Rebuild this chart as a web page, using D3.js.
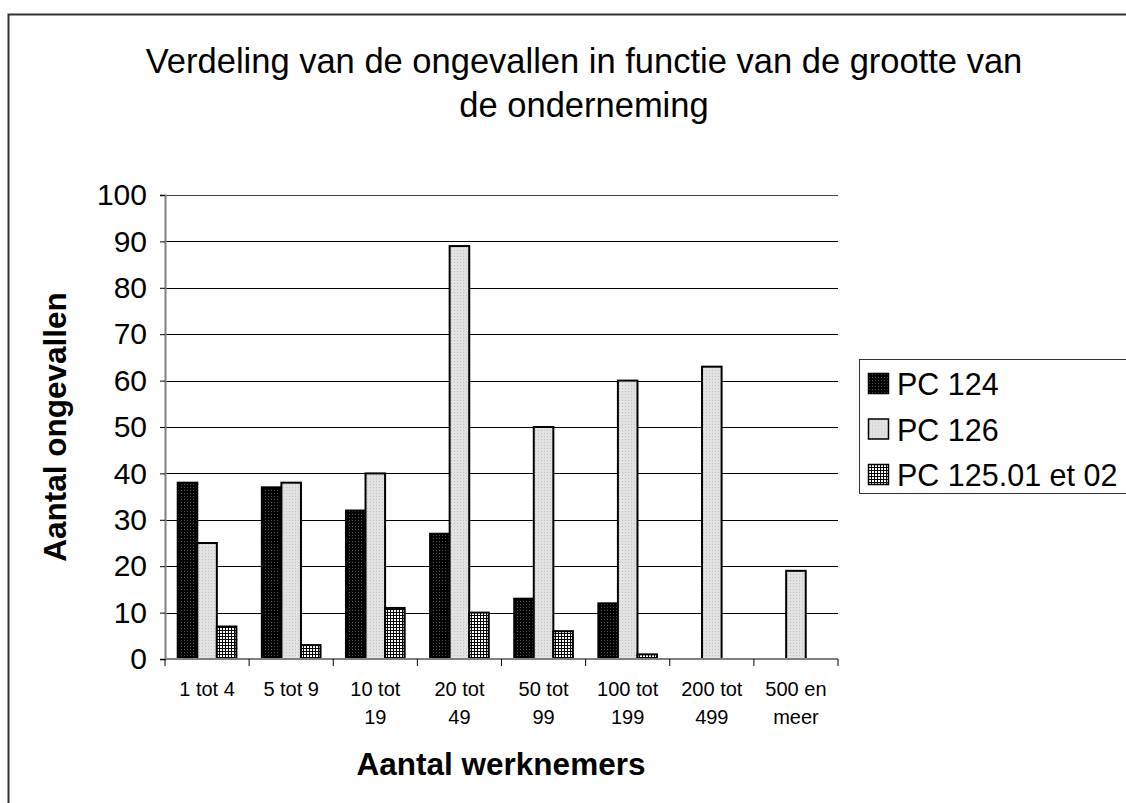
<!DOCTYPE html>
<html><head><meta charset="utf-8">
<script src="https://cdn.jsdelivr.net/npm/d3@7"></script>
<style>body{margin:0;background:#fff;} svg{display:block;font-family:"Liberation Sans",Arial,sans-serif;}</style>
</head><body>
<script>
const categories = [["1 tot 4"],["5 tot 9"],["10 tot","19"],["20 tot","49"],["50 tot","99"],["100 tot","199"],["200 tot","499"],["500 en","meer"]];
const seriesNames = ["PC 124","PC 126","PC 125.01 et 02"];
const pc124 = [38,37,32,27,13,12,0,0];
const pc126 = [25,38,40,89,50,60,63,19];
const pc125 = [7,3,11,10,6,1,0,0];
const yTicks = [0,10,20,30,40,50,60,70,80,90,100];
const series = [pc124, pc126, pc125];
const fills = ["url(#pBlack)","url(#pLight)","url(#pHatch)"];

(function(){
const W=1126,H=803;
const svg=d3.select("body").append("svg").attr("width",W).attr("height",H);
const defs=svg.append("defs");
let p=defs.append("pattern").attr("id","pBlack").attr("patternUnits","userSpaceOnUse").attr("width",3).attr("height",3);
p.append("rect").attr("width",3).attr("height",3).attr("fill","#000");
p.append("rect").attr("x",1).attr("y",1).attr("width",1).attr("height",1).attr("fill","#555");
p=defs.append("pattern").attr("id","pLight").attr("patternUnits","userSpaceOnUse").attr("width",3).attr("height",3);
p.append("rect").attr("width",3).attr("height",3).attr("fill","#e2e2e2");
p.append("rect").attr("x",1).attr("y",1).attr("width",1).attr("height",1).attr("fill","#c4c4c4");
p=defs.append("pattern").attr("id","pHatch").attr("patternUnits","userSpaceOnUse").attr("width",3).attr("height",3);
p.append("rect").attr("width",3).attr("height",3).attr("fill","#000");
p.append("rect").attr("x",1).attr("y",1).attr("width",2).attr("height",2).attr("fill","#fff");

svg.append("rect").attr("x",8.5).attr("y",14.5).attr("width",1130).attr("height",800).attr("fill","none").attr("stroke","#333").attr("stroke-width",2);

const pl=165,pr=838,pt=195,pb=659;
const x=d3.scaleBand().domain(d3.range(categories.length)).range([pl,pr]).paddingInner(0).paddingOuter(0);
const y=d3.scaleLinear().domain([0,100]).range([pb,pt]);

svg.append("g").selectAll("line").data(yTicks.filter(t=>t>0)).join("line")
 .attr("x1",pl).attr("x2",pr).attr("y1",d=>Math.round(y(d))+0.5).attr("y2",d=>Math.round(y(d))+0.5)
 .attr("stroke",d=>d===100?"#444":"#000").attr("stroke-width",1);

const cw=x.bandwidth(); const bw=cw/4.3; const gx=(cw-3*bw)/2;
series.forEach((vals,si)=>{
  svg.append("g").selectAll("rect").data(vals.map((v,i)=>({v,i})).filter(d=>d.v>0)).join("rect")
   .attr("x",d=>x(d.i)+gx+si*bw).attr("y",d=>y(d.v)).attr("width",bw).attr("height",d=>pb-y(d.v))
   .attr("fill",fills[si]).attr("stroke","#000").attr("stroke-width",2);
});

const ya=svg.append("g").attr("transform",`translate(${pl},0)`)
 .call(d3.axisLeft(y).tickValues(yTicks).tickSize(5).tickPadding(13));
ya.select(".domain").attr("stroke","#808080").attr("stroke-width",2);
ya.selectAll(".tick line").attr("stroke","#000");
ya.selectAll("text").attr("font-size",30).attr("fill","#000").attr("font-family","Liberation Sans, Arial, sans-serif");

svg.append("line").attr("x1",pl).attr("x2",pr).attr("y1",pb).attr("y2",pb).attr("stroke","#808080").attr("stroke-width",2);
svg.append("g").selectAll("line").data(d3.range(categories.length+1)).join("line")
 .attr("x1",d=>pl+d*cw).attr("x2",d=>pl+d*cw).attr("y1",pb).attr("y2",pb+7).attr("stroke","#000");
const xl=svg.append("g").selectAll("text").data(categories).join("text")
 .attr("x",(d,i)=>x(i)+cw/2).attr("y",696).attr("text-anchor","middle").attr("font-size",20);
xl.each(function(d){const t=d3.select(this);d.forEach((s,k)=>t.append("tspan").attr("x",t.attr("x")).attr("dy",k?28:0).text(s));});

svg.append("text").attr("x",584).attr("y",73).attr("text-anchor","middle").attr("font-size",34.5).text("Verdeling van de ongevallen in functie van de grootte van");
svg.append("text").attr("x",584).attr("y",117).attr("text-anchor","middle").attr("font-size",34.5).text("de onderneming");
svg.append("text").attr("x",501).attr("y",775).attr("text-anchor","middle").attr("font-size",31.5).attr("font-weight","bold").text("Aantal werknemers");
svg.append("text").attr("transform","translate(66,427) rotate(-90)").attr("text-anchor","middle").attr("font-size",31.5).attr("font-weight","bold").text("Aantal ongevallen");

svg.append("rect").attr("x",859.5).attr("y",359.5).attr("width",300).attr("height",134).attr("fill","#fff").attr("stroke","#333").attr("stroke-width",1);
const lg=svg.append("g").selectAll("g").data(seriesNames).join("g").attr("transform",(d,i)=>`translate(868,${373+i*45.5})`);
lg.append("rect").attr("x",0.5).attr("y",0.5).attr("width",20).attr("height",20).attr("fill",(d,i)=>fills[i]).attr("stroke","#000").attr("stroke-width",1.5);
lg.append("text").attr("x",29).attr("y",22).attr("font-size",30.5).text(d=>d);
})();
</script>
</body></html>
